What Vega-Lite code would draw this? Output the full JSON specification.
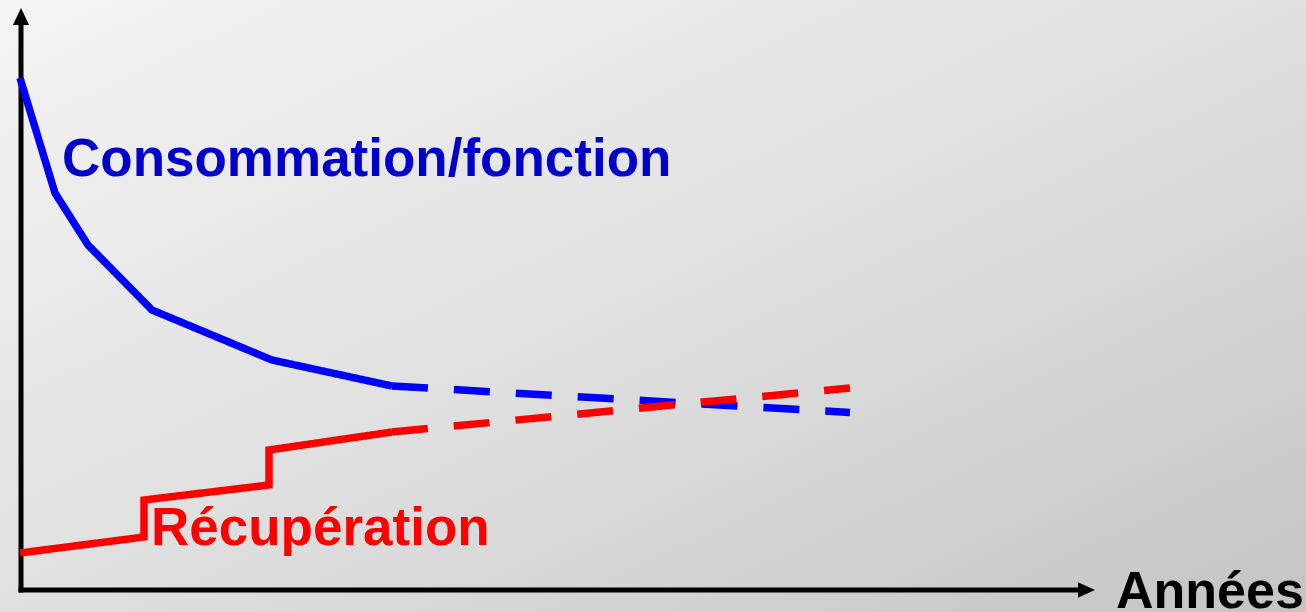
{
  "$schema": "https://vega.github.io/schema/vega-lite/v6.json",
  "width": 1306,
  "height": 612,
  "padding": 0,
  "autosize": {"type": "none"},
  "background": "#dcdcdc",
  "config": {"view": {"stroke": null}},
  "data": {"values": [{}]},
  "datasets": {
    "courbes": [
      {"serie": "Consommation/fonction", "partie": "mesurée", "i": 1, "annee": 2.0, "valeur": 53.4},
      {"serie": "Consommation/fonction", "partie": "mesurée", "i": 2, "annee": 5.5, "valeur": 41.9},
      {"serie": "Consommation/fonction", "partie": "mesurée", "i": 3, "annee": 8.8, "valeur": 36.7},
      {"serie": "Consommation/fonction", "partie": "mesurée", "i": 4, "annee": 15.2, "valeur": 30.2},
      {"serie": "Consommation/fonction", "partie": "mesurée", "i": 5, "annee": 27.2, "valeur": 25.2},
      {"serie": "Consommation/fonction", "partie": "mesurée", "i": 6, "annee": 39.2, "valeur": 22.6},
      {"serie": "Consommation/fonction", "partie": "prévue", "i": 7, "annee": 39.2, "valeur": 22.6},
      {"serie": "Consommation/fonction", "partie": "prévue", "i": 8, "annee": 85.0, "valeur": 19.95},
      {"serie": "Récupération", "partie": "mesurée", "i": 1, "annee": 2.0, "valeur": 5.9},
      {"serie": "Récupération", "partie": "mesurée", "i": 2, "annee": 14.4, "valeur": 7.5},
      {"serie": "Récupération", "partie": "mesurée", "i": 3, "annee": 14.4, "valeur": 11.2},
      {"serie": "Récupération", "partie": "mesurée", "i": 4, "annee": 26.9, "valeur": 12.7},
      {"serie": "Récupération", "partie": "mesurée", "i": 5, "annee": 26.9, "valeur": 16.2},
      {"serie": "Récupération", "partie": "mesurée", "i": 6, "annee": 39.2, "valeur": 18.0},
      {"serie": "Récupération", "partie": "prévue", "i": 7, "annee": 39.2, "valeur": 18.0},
      {"serie": "Récupération", "partie": "prévue", "i": 8, "annee": 85.0, "valeur": 22.4}
    ]
  },
  "layer": [
    {
      "mark": {
        "type": "rect",
        "fill": {
          "gradient": "linear",
          "x1": 0, "y1": 0, "x2": 1, "y2": 1,
          "stops": [
            {"offset": 0, "color": "#f4f4f4"},
            {"offset": 0.5, "color": "#e0e0e0"},
            {"offset": 1, "color": "#c4c4c4"}
          ]
        }
      },
      "encoding": {
        "x": {"datum": 0, "type": "quantitative", "scale": {"domain": [0, 130.6], "nice": false, "zero": false}, "axis": null},
        "x2": {"datum": 130.6},
        "y": {"datum": 0, "type": "quantitative", "scale": {"domain": [0, 61.2], "nice": false, "zero": false}, "axis": null},
        "y2": {"datum": 61.2}
      }
    },
    {
      "mark": {"type": "rule", "color": "black", "strokeWidth": 5, "strokeCap": "butt"},
      "encoding": {
        "x": {"datum": 2.1, "type": "quantitative"},
        "y": {"datum": 1.95, "type": "quantitative"},
        "y2": {"datum": 59.0}
      }
    },
    {
      "mark": {"type": "rule", "color": "black", "strokeWidth": 5, "strokeCap": "butt"},
      "encoding": {
        "x": {"datum": 1.85, "type": "quantitative"},
        "x2": {"datum": 108.0},
        "y": {"datum": 2.2, "type": "quantitative"}
      }
    },
    {
      "mark": {"type": "point", "shape": "M0,-1L0.95,1L-0.95,1Z", "filled": true, "color": "black", "opacity": 1, "size": 289},
      "encoding": {
        "x": {"datum": 2.1, "type": "quantitative"},
        "y": {"datum": 59.55, "type": "quantitative"}
      }
    },
    {
      "mark": {"type": "point", "shape": "M1,0L-1,-0.9L-1,0.9Z", "filled": true, "color": "black", "opacity": 1, "size": 289},
      "encoding": {
        "x": {"datum": 108.65, "type": "quantitative"},
        "y": {"datum": 2.2, "type": "quantitative"}
      }
    },
    {
      "data": {"name": "courbes"},
      "mark": {"type": "line", "strokeWidth": 7.5, "strokeCap": "butt", "strokeJoin": "miter"},
      "encoding": {
        "x": {"field": "annee", "type": "quantitative"},
        "y": {"field": "valeur", "type": "quantitative"},
        "order": {"field": "i", "type": "quantitative"},
        "detail": {"field": "partie", "type": "nominal"},
        "color": {
          "field": "serie", "type": "nominal",
          "scale": {"domain": ["Consommation/fonction", "Récupération"], "range": ["#0000ff", "#ff0000"]},
          "legend": null
        },
        "strokeDash": {
          "field": "partie", "type": "nominal",
          "scale": {"domain": ["mesurée", "prévue"], "range": [[1, 0], [36, 26]]},
          "legend": null
        }
      }
    },
    {
      "mark": {"type": "text", "text": "Consommation/fonction", "font": "Liberation Sans", "fontWeight": "bold", "fontSize": 53, "color": "#0000cc", "align": "left", "baseline": "alphabetic"},
      "encoding": {
        "x": {"datum": 6.2, "type": "quantitative"},
        "y": {"datum": 43.6, "type": "quantitative"}
      }
    },
    {
      "mark": {"type": "text", "text": "Récupération", "font": "Liberation Sans", "fontWeight": "bold", "fontSize": 53, "color": "#ff0000", "align": "left", "baseline": "alphabetic"},
      "encoding": {
        "x": {"datum": 15.1, "type": "quantitative"},
        "y": {"datum": 6.7, "type": "quantitative"}
      }
    },
    {
      "mark": {"type": "text", "text": "Années", "font": "Liberation Sans", "fontWeight": "bold", "fontSize": 52, "color": "#000000", "align": "left", "baseline": "alphabetic"},
      "encoding": {
        "x": {"datum": 111.6, "type": "quantitative"},
        "y": {"datum": 0.45, "type": "quantitative"}
      }
    }
  ]
}
